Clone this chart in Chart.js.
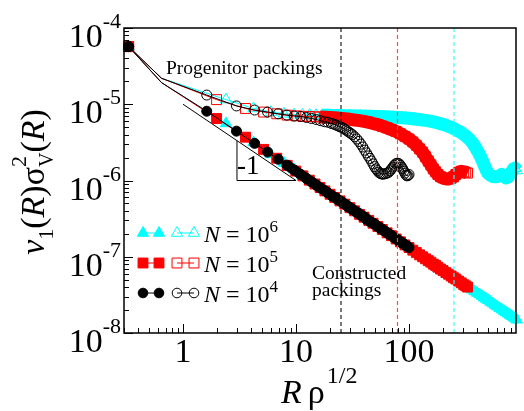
<!DOCTYPE html>
<html>
<head>
<meta charset="utf-8">
<script src="https://cdn.jsdelivr.net/npm/chart.js@4.4.0/dist/chart.umd.min.js"></script>
<style>
  html, body { margin: 0; padding: 0; background: #fff; }
  #wrap { width: 524px; height: 411px; }
</style>
</head>
<body>
<div id="wrap"><canvas id="c" width="524" height="411"></canvas></div>
<script>
// ── Data ──────────────────────────────────────────────────────────────────
// N = 10^4
const xs4 = [0.33, 0.645, 1.62, 2.97, 4.3, 5.6, 6.95, 8.3, 9.65, 11, 12.4, 13.7, 15.1, 16.4, 17.8, 19.1,
  20.5, 21.5, 22.5, 23.5, 24.5, 25.5, 26.5, 27.5, 28.5, 29.5, 30.5, 31.5,
  33, 34.5, 36, 37.5, 39, 40.5, 42, 43.5, 45, 46.5, 48, 49.5, 51, 52.5, 54, 55.5, 57, 58.5, 60,
  62, 64, 66, 68, 70, 72, 74, 76, 78, 80, 82, 84, 86, 88, 90, 92, 94, 96, 98, 100];
const prog4 = [5.7e-5, 2.19e-5, 1.32e-5, 9.5e-6, 8.4e-6, 7.9e-6, 7.5e-6, 7.2e-6, 7.0e-6, 6.9e-6, 6.7e-6,
  6.5e-6, 6.3e-6, 6.1e-6, 5.9e-6, 5.8e-6,
  5.6e-6, 5.5e-6, 5.35e-6, 5.2e-6, 5.05e-6, 4.95e-6, 4.8e-6, 4.6e-6, 4.45e-6, 4.3e-6, 4.15e-6, 4.0e-6,
  3.75e-6, 3.5e-6, 3.25e-6, 3.0e-6, 2.75e-6, 2.5e-6, 2.3e-6, 2.1e-6, 1.95e-6, 1.8e-6, 1.65e-6, 1.52e-6,
  1.42e-6, 1.35e-6, 1.28e-6, 1.24e-6, 1.22e-6, 1.21e-6, 1.22e-6,
  1.23e-6, 1.25e-6, 1.28e-6, 1.34e-6, 1.42e-6, 1.5e-6, 1.58e-6, 1.65e-6, 1.68e-6, 1.68e-6, 1.65e-6,
  1.58e-6, 1.5e-6, 1.42e-6, 1.33e-6, 1.25e-6, 1.18e-6, 1.15e-6, 1.16e-6, 1.2e-6];
const cons4 = [5.7e-5, 1.92e-5, 8.1e-6, 4.44e-6, 3.07e-6, 2.36e-6, 1.9e-6, 1.59e-6, 1.37e-6, 1.2e-6,
  1.06e-6, 9.6e-7, 8.7e-7, 8.0e-7, 7.4e-7, 6.9e-7,
  6.4e-7, 6.1e-7, 5.9e-7, 5.6e-7, 5.4e-7, 5.2e-7, 5.0e-7, 4.8e-7, 4.6e-7, 4.5e-7, 4.3e-7, 4.2e-7,
  4.0e-7, 3.8e-7, 3.7e-7, 3.5e-7, 3.4e-7, 3.3e-7, 3.1e-7, 3.0e-7, 2.9e-7, 2.8e-7, 2.75e-7, 2.67e-7,
  2.59e-7, 2.5e-7, 2.44e-7, 2.38e-7, 2.32e-7, 2.26e-7, 2.2e-7,
  2.13e-7, 2.06e-7, 2.0e-7, 1.94e-7, 1.89e-7, 1.83e-7, 1.78e-7, 1.74e-7, 1.69e-7, 1.65e-7, 1.61e-7,
  1.57e-7, 1.53e-7, 1.5e-7, 1.47e-7, 1.43e-7, 1.4e-7, 1.38e-7, 1.35e-7, 1.32e-7];

// N = 10^5
const xs5 = [0.33, 0.645, 1.98, 3.57, 5.16, 6.75, 8.35, 9.95, 11.5, 13.1, 14.7, 16.3, 18, 20, 22, 24.5,
  27, 30, 33, 36.5, 40, 44, 48, 53, 58, 64, 70, 77, 84, 92, 100, 108, 116, 124, 132, 140, 148, 156, 164,
  172, 180, 190, 200, 212, 224, 236, 248, 260, 275, 290, 305, 318, 330];
const prog5 = [5.7e-5, 2.19e-5, 1.15e-5, 8.8e-6, 7.9e-6, 7.5e-6, 7.2e-6, 7.05e-6, 6.95e-6, 6.9e-6,
  6.85e-6, 6.8e-6, 6.75e-6, 6.7e-6, 6.65e-6, 6.55e-6, 6.45e-6, 6.35e-6, 6.2e-6, 6.1e-6, 5.95e-6, 5.8e-6,
  5.6e-6, 5.4e-6, 5.15e-6, 4.9e-6, 4.65e-6, 4.4e-6, 4.1e-6, 3.8e-6, 3.5e-6, 3.2e-6, 2.9e-6, 2.6e-6,
  2.35e-6, 2.05e-6, 1.8e-6, 1.6e-6, 1.42e-6, 1.3e-6, 1.2e-6, 1.12e-6, 1.08e-6, 1.05e-6, 1.05e-6,
  1.07e-6, 1.12e-6, 1.2e-6, 1.28e-6, 1.32e-6, 1.3e-6, 1.28e-6, 1.25e-6];
const cons5 = [5.7e-5, 1.92e-5, 6.5e-6, 3.7e-6, 2.56e-6, 1.96e-6, 1.58e-6, 1.33e-6, 1.15e-6, 1.01e-6,
  9.0e-7, 8.1e-7, 7.3e-7, 6.6e-7, 6.0e-7, 5.4e-7, 4.9e-7, 4.4e-7, 4.0e-7, 3.6e-7, 3.3e-7, 3.0e-7,
  2.75e-7, 2.49e-7, 2.28e-7, 2.06e-7, 1.89e-7, 1.71e-7, 1.57e-7, 1.43e-7, 1.32e-7, 1.22e-7, 1.14e-7,
  1.06e-7, 1.0e-7, 9.4e-8, 8.9e-8, 8.5e-8, 8.0e-8, 7.7e-8, 7.3e-8, 6.9e-8, 6.6e-8, 6.2e-8, 5.9e-8,
  5.6e-8, 5.3e-8, 5.1e-8, 4.8e-8, 4.55e-8, 4.3e-8, 4.15e-8, 4.0e-8];

// N = 10^6
const xs6 = [0.33, 0.645, 2.4, 4.2, 6.0, 7.8, 9.6, 11.4, 13.2, 15, 17, 19, 21.5, 24, 27, 30, 33.5, 37,
  41, 45, 50, 55, 60, 66, 72, 79, 86, 94, 103, 112, 122, 133, 145, 158, 172, 187, 204, 222, 242, 263,
  286, 311, 338, 360, 380, 400, 420, 440, 460, 480, 500, 525, 550, 575, 600, 630, 660, 690, 720, 750,
  780, 810, 840, 870, 900];
const prog6 = [5.7e-5, 2.19e-5, 1.15e-5, 8.8e-6, 7.9e-6, 7.5e-6, 7.3e-6, 7.25e-6, 7.2e-6, 7.2e-6,
  7.15e-6, 7.15e-6, 7.1e-6, 7.1e-6, 7.05e-6, 7.05e-6, 7.0e-6, 7.0e-6, 6.95e-6, 6.95e-6, 6.9e-6, 6.9e-6,
  6.85e-6, 6.8e-6, 6.75e-6, 6.7e-6, 6.65e-6, 6.6e-6, 6.5e-6, 6.4e-6, 6.3e-6, 6.2e-6, 6.1e-6, 5.95e-6,
  5.8e-6, 5.6e-6, 5.4e-6, 5.15e-6, 4.9e-6, 4.6e-6, 4.3e-6, 3.95e-6, 3.55e-6, 3.2e-6, 2.85e-6, 2.5e-6,
  2.2e-6, 1.9e-6, 1.62e-6, 1.4e-6, 1.25e-6, 1.17e-6, 1.13e-6, 1.12e-6, 1.12e-6, 1.15e-6, 1.2e-6,
  1.15e-6, 1.08e-6, 1.1e-6, 1.2e-6, 1.3e-6, 1.42e-6, 1.45e-6, 1.35e-6];
const cons6 = [5.7e-5, 1.92e-5, 5.6e-6, 3.15e-6, 2.2e-6, 1.7e-6, 1.38e-6, 1.16e-6, 1.0e-6, 8.8e-7,
  7.8e-7, 7.0e-7, 6.2e-7, 5.5e-7, 4.9e-7, 4.4e-7, 3.95e-7, 3.6e-7, 3.25e-7, 2.95e-7, 2.65e-7, 2.4e-7,
  2.2e-7, 2.0e-7, 1.84e-7, 1.68e-7, 1.54e-7, 1.41e-7, 1.29e-7, 1.18e-7, 1.09e-7, 1.0e-7, 9.2e-8, 8.4e-8,
  7.7e-8, 7.1e-8, 6.5e-8, 6.0e-8, 5.5e-8, 5.05e-8, 4.65e-8, 4.3e-8, 3.95e-8, 3.7e-8, 3.5e-8, 3.35e-8,
  3.2e-8, 3.05e-8, 2.9e-8, 2.8e-8, 2.68e-8, 2.55e-8, 2.43e-8, 2.33e-8, 2.23e-8, 2.12e-8, 2.03e-8,
  1.94e-8, 1.86e-8, 1.79e-8, 1.72e-8, 1.66e-8, 1.6e-8, 1.54e-8, 1.49e-8];

// slope -1 guide triangle and system-size cutoffs (sqrt(N)/4)
const slopeX = [1, 10, 3, 3];
const slopeY = [1e-5, 1e-6, 1e-6, 3.33e-6];
const cutoffs = [25, 79.06, 250];

const xTicks = [1, 10, 100];
const yTickExps = [-8, -7, -6, -5, -4];
const legendExps = ['6', '5', '4'];

// ── Styles ────────────────────────────────────────────────────────────────
const CYAN = '#00ffff';
const RED = '#ff0000';
const BLACK = '#000000';
const cutColors = ['#222222', '#ff4a4a', '#30ffff'];
const SERIF = '"Liberation Serif", "Times New Roman", serif';
const font = (size, italic) => (italic ? 'italic ' : '') + size + 'px ' + SERIF;

// where the markers pile up into a solid band, the connecting line is widened
function series(xs, ys, color, style, r, filled, bandFrom, bandWidth) {
    return {
        data: xs.map((x, i) => ({ x, y: ys[i] })),
        borderColor: color,
        backgroundColor: filled ? color : 'rgba(0,0,0,0)',
        pointBorderColor: color,
        pointBackgroundColor: filled ? color : 'rgba(0,0,0,0)',
        pointStyle: style,
        pointRadius: (c) => (c.dataIndex === 1 ? 0 : r),
        pointBorderWidth: 1,
        borderWidth: 1,
        borderJoinStyle: 'round',
        segment: {
            borderWidth: (s) => (s.p0.parsed.x >= bandFrom ? bandWidth : 1),
        },
        tension: 0,
        clip: false,
    };
}

function cutLine(c, color) {
    return {
        data: [{ x: c, y: 1e-8 }, { x: c, y: 1e-4 }],
        borderColor: color,
        borderWidth: 1.2,
        borderDash: [4, 3],
        pointRadius: 0,
    };
}

function marker(ctx, style, x, y, r, color, filled) {
    ctx.beginPath();
    if (style === 'circle') {
        ctx.arc(x, y, r, 0, Math.PI * 2);
    } else if (style === 'rect') {
        const s = r * Math.SQRT1_2;
        ctx.rect(x - s, y - s, 2 * s, 2 * s);
    } else {
        ctx.moveTo(x, y - r);
        ctx.lineTo(x + r * 0.866, y + r * 0.5);
        ctx.lineTo(x - r * 0.866, y + r * 0.5);
        ctx.closePath();
    }
    ctx.lineWidth = 1;
    ctx.strokeStyle = color;
    if (filled) { ctx.fillStyle = color; ctx.fill(); }
    ctx.stroke();
}

// draws text pieces one after another; {t, size, italic, dy, stay}
function runs(ctx, x, y, parts, measureOnly) {
    let hold = 0;
    for (const p of parts) {
        ctx.font = font(p.size, p.italic);
        const w = ctx.measureText(p.t).width;
        if (!measureOnly) ctx.fillText(p.t, x, y + (p.dy || 0));
        if (p.stay) { hold = Math.max(hold, w); continue; }
        x += Math.max(w, hold) + (p.gap || 0);
        hold = 0;
    }
    return x;
}

// ── Decorations plugin ────────────────────────────────────────────────────
const decor = {
    id: 'decor',
    afterDatasetsDraw(chart) {
        const { ctx, chartArea: a } = chart;
        const xs = chart.scales.x, ys = chart.scales.y;
        ctx.save();

        // frame
        ctx.strokeStyle = BLACK;
        ctx.lineWidth = 1.5;
        ctx.strokeRect(a.left, a.top, a.right - a.left, a.bottom - a.top);

        // inward ticks
        ctx.lineWidth = 1;
        ctx.beginPath();
        for (let e = -1; e <= 2; e++) {
            for (let m = 1; m <= 9; m++) {
                const v = m * Math.pow(10, e);
                if (v < xs.min || v > xs.max) continue;
                const px = Math.round(xs.getPixelForValue(v)) + 0.5;
                ctx.moveTo(px, a.bottom);
                ctx.lineTo(px, a.bottom - (m === 1 ? 9 : 5));
            }
        }
        for (let e = -8; e <= -4; e++) {
            for (let m = 1; m <= 9; m++) {
                const v = m * Math.pow(10, e);
                if (v < ys.min * 0.999 || v > ys.max * 1.001) continue;
                const py = Math.round(ys.getPixelForValue(v)) + 0.5;
                ctx.moveTo(a.left, py);
                ctx.lineTo(a.left + (m === 1 ? 9 : 5), py);
            }
        }
        ctx.stroke();

        ctx.fillStyle = BLACK;
        ctx.textBaseline = 'alphabetic';

        // tick labels
        ctx.textAlign = 'center';
        ctx.font = font(34);
        xTicks.forEach((v) => ctx.fillText(String(v), xs.getPixelForValue(v), 362));
        ctx.textAlign = 'left';
        yTickExps.forEach((e) => {
            const py = ys.getPixelForValue(Math.pow(10, e));
            const parts = [{ t: '10', size: 34 }, { t: String(e), size: 22, dy: -19 }];
            const w = runs(ctx, 0, 0, parts, true);
            runs(ctx, 121 - w, py + 19, parts);
        });

        // axis titles
        runs(ctx, 281, 403, [
            { t: 'R', size: 34, italic: true, gap: 6 },
            { t: 'ρ', size: 34, gap: 2 },
            { t: '1/2', size: 24, dy: -20 },
        ]);
        const yt = [
            { t: 'v', size: 34, italic: true },
            { t: '1', size: 22, dy: 9 },
            { t: '(', size: 34 },
            { t: 'R', size: 34, italic: true },
            { t: ')', size: 34 },
            { t: 'σ', size: 34 },
            { t: 'V', size: 20, dy: 9, stay: true },
            { t: '2', size: 22, dy: -18 },
            { t: '(', size: 34 },
            { t: 'R', size: 34, italic: true },
            { t: ')', size: 34 },
        ];
        ctx.save();
        ctx.translate(44, 182);
        ctx.rotate(-Math.PI / 2);
        const tw = runs(ctx, 0, 0, yt, true);
        runs(ctx, -tw / 2, 0, yt);
        ctx.restore();

        // annotations
        ctx.font = font(19.5);
        ctx.fillText('Progenitor packings', 166, 74);
        ctx.fillText('Constructed', 312, 279);
        ctx.fillText('packings', 312, 296);
        ctx.font = font(27);
        ctx.fillText('-1', 237, 174);

        // legend
        const legend = [
            { color: CYAN, style: 'triangle', r: 6.5, y: 233 },
            { color: RED, style: 'rect', r: 7, y: 263 },
            { color: BLACK, style: 'circle', r: 4.8, y: 293 },
        ];
        legend.forEach((L, i) => {
            ctx.strokeStyle = L.color;
            ctx.lineWidth = 1;
            ctx.beginPath();
            ctx.moveTo(143, L.y); ctx.lineTo(159, L.y);
            ctx.moveTo(177, L.y); ctx.lineTo(194, L.y);
            ctx.stroke();
            marker(ctx, L.style, 143, L.y, L.r, L.color, true);
            marker(ctx, L.style, 159, L.y, L.r, L.color, true);
            marker(ctx, L.style, 177, L.y, L.r, L.color, false);
            marker(ctx, L.style, 194, L.y, L.r, L.color, false);
            ctx.fillStyle = BLACK;
            runs(ctx, 204, L.y + 9, [
                { t: 'N', size: 24, italic: true },
                { t: ' = 10', size: 24 },
                { t: legendExps[i], size: 17, dy: -10 },
            ]);
        });

        ctx.restore();
    },
};

new Chart(document.getElementById('c'), {
    type: 'line',
    data: {
        datasets: [
            ...cutoffs.map((c, i) => cutLine(c, cutColors[i])),
            series(xs4, cons4, BLACK, 'circle', 5, true, 8.3, 10),
            series(xs4, prog4, BLACK, 'circle', 5, false, Infinity, 1),
            series(xs5, cons5, RED, 'rect', 7, true, 8.35, 10),
            series(xs5, prog5, RED, 'rect', 7, false, 16.3, 13),
            series(xs6, cons6, CYAN, 'triangle', 6.5, true, 9.6, 10),
            series(xs6, prog6, CYAN, 'triangle', 6.5, false, 17, 13),
            {
                data: slopeX.map((x, i) => ({ x, y: slopeY[i] })),
                borderColor: BLACK,
                borderWidth: 1,
                pointRadius: 0,
                tension: 0,
                clip: false,
            },
        ],
    },
    options: {
        responsive: false,
        animation: false,
        events: [],
        layout: { padding: { left: 124, right: 5, top: 28, bottom: 78 } },
        plugins: { legend: { display: false }, tooltip: { enabled: false } },
        scales: {
            x: { type: 'logarithmic', min: 0.31, max: 885, display: false },
            y: { type: 'logarithmic', min: 1e-8, max: 1e-4, display: false },
        },
    },
    plugins: [decor],
});
</script>
</body>
</html>
